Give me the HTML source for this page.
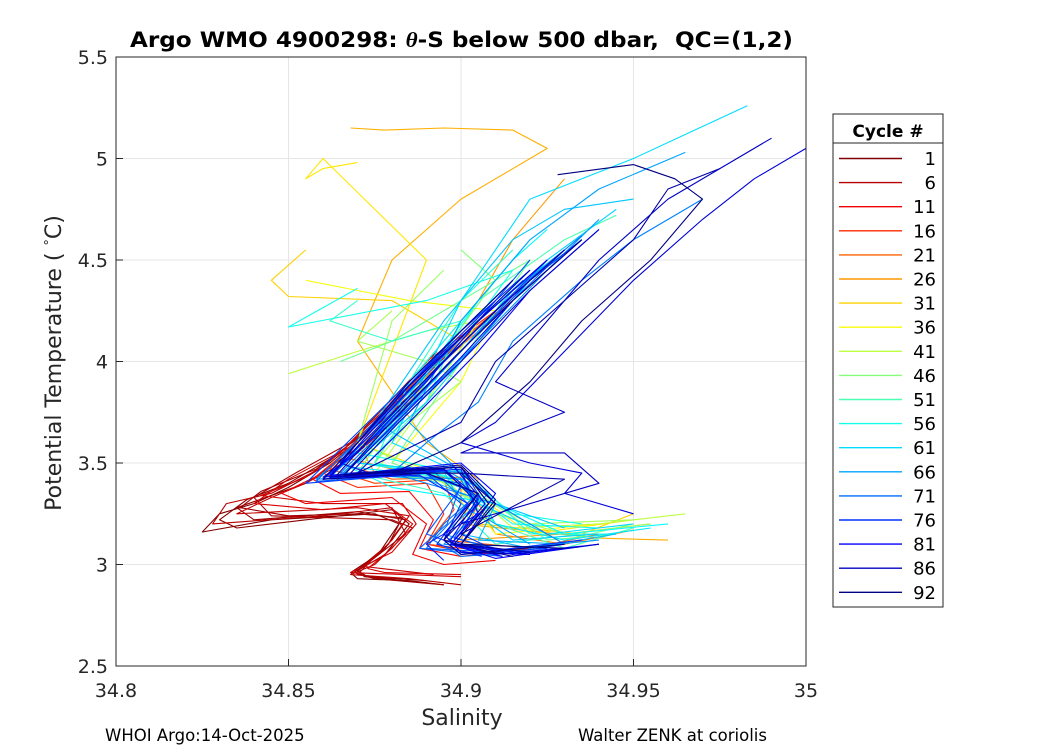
<!DOCTYPE html>
<html><head><meta charset="utf-8"><style>
body{margin:0;background:#fff;}
svg{display:block;font-family:"DejaVu Sans","Liberation Sans",sans-serif;}
</style></head><body>
<svg id="chart" width="1050" height="750" viewBox="0 0 1050 750">
<rect width="1050" height="750" fill="#fff"/>
<g id="grid"></g>
<g id="series"></g>
<rect x="116" y="57" width="690" height="609" fill="none" stroke="#262626" stroke-width="1"/>
<g id="ticks"></g>
<text x="130" y="47" font-size="21" font-weight="bold" fill="#000" xml:space="preserve" textLength="663" lengthAdjust="spacingAndGlyphs">Argo WMO 4900298: <tspan font-style="italic" font-family="Liberation Serif,serif">θ</tspan>-S below 500 dbar,  QC=(1,2)</text>
<text x="462" y="725" text-anchor="middle" font-size="22" fill="#262626">Salinity</text>
<text transform="translate(61,363) rotate(-90)" text-anchor="middle" font-size="22" fill="#262626">Potential Temperature ( <tspan baseline-shift="super" font-size="13">°</tspan>C)</text>
<text x="105" y="741" font-size="16.5" fill="#000">WHOI Argo:14-Oct-2025</text>
<text x="578" y="741" font-size="16.5" fill="#000">Walter ZENK at coriolis</text>
<g id="legend">
<rect x="833" y="114" width="110" height="493" fill="#fff" stroke="#262626"/>
<line x1="833" y1="143" x2="943" y2="143" stroke="#262626"/>
<text x="888" y="137" text-anchor="middle" font-size="17" font-weight="bold">Cycle #</text>
</g>
</svg>
<script>
const cycles=[1,3,6,9,11,16,21,26,28,31,33,36,41,46,48,51,53,56,58,61,63,66,69,71,73,75,76,78,80,81,84,86,88,92,
2,4,5,7,8,13,18,23,60,62,64,65,67,68,70,72,74,77,79,82,83,85,87,89,90,91,43,44,54,57];
const sal=[
[34.895,34.88,34.862,34.85,34.84,34.83,34.825,34.845,34.875,34.882,34.876,34.868,34.87,34.885,34.895],
[34.9,34.885,34.868,34.855,34.835,34.84,34.87,34.884,34.878,34.87,34.873,34.89],
[34.89,34.875,34.86,34.845,34.832,34.828,34.86,34.88,34.884,34.875,34.868,34.885,34.9],
[34.905,34.89,34.87,34.85,34.84,34.86,34.878,34.886,34.88,34.873,34.878,34.9],
[34.885,34.872,34.86,34.848,34.855,34.88,34.89,34.886,34.895,34.91],
[34.91,34.89,34.875,34.86,34.87,34.89,34.895,34.89,34.905,34.93],
[34.92,34.9,34.88,34.865,34.88,34.9,34.9,34.895,34.92,34.94],
[34.93,34.915,34.905,34.89,34.87,34.875,34.9,34.905,34.9,34.93,34.955],
[34.868,34.878,34.895,34.915,34.925,34.9,34.88,34.87,34.89,34.905,34.9,34.94,34.96],
[34.855,34.845,34.85,34.88,34.9,34.88,34.87,34.895,34.905,34.935,34.95],
[34.87,34.86,34.855,34.86,34.89,34.87,34.9,34.92,34.95],
[34.855,34.87,34.885,34.91,34.9,34.88,34.9,34.91,34.94],
[34.85,34.87,34.89,34.905,34.89,34.875,34.9,34.915,34.94,34.965],
[34.9,34.91,34.895,34.88,34.87,34.895,34.91,34.93,34.95],
[34.865,34.88,34.9,34.92,34.9,34.88,34.905,34.925,34.945],
[34.945,34.93,34.905,34.89,34.875,34.9,34.91,34.93,34.95],
[34.87,34.862,34.88,34.9,34.89,34.87,34.895,34.91,34.935],
[34.87,34.85,34.89,34.915,34.9,34.87,34.9,34.915,34.935],
[34.925,34.915,34.9,34.88,34.865,34.88,34.91,34.93,34.96],
[34.983,34.95,34.92,34.9,34.88,34.9,34.905,34.925,34.95],
[34.95,34.93,34.915,34.895,34.875,34.9,34.91,34.93],
[34.965,34.94,34.92,34.9,34.885,34.9,34.905,34.92],
[34.97,34.95,34.935,34.915,34.905,34.89,34.88,34.91,34.93],
[34.93,34.915,34.9,34.88,34.865,34.89,34.905,34.895,34.89,34.92],
[34.92,34.905,34.89,34.87,34.86,34.885,34.9,34.89,34.905,34.93],
[34.915,34.9,34.885,34.87,34.855,34.89,34.9,34.895,34.9,34.925],
[34.935,34.92,34.9,34.88,34.86,34.895,34.905,34.9,34.91,34.935],
[34.91,34.895,34.88,34.865,34.875,34.9,34.905,34.89,34.895],
[34.925,34.905,34.89,34.87,34.86,34.9,34.91,34.9,34.92],
[34.94,34.92,34.905,34.885,34.87,34.9,34.908,34.897,34.91,34.94],
[35.0,34.985,34.97,34.95,34.93,34.91,34.9,34.92,34.935,34.93,34.95],
[34.99,34.975,34.96,34.94,34.925,34.91,34.93,34.9,34.93,34.94,34.9],
[34.975,34.96,34.95,34.93,34.91,34.9,34.87,34.9,34.93,34.9],
[34.928,34.95,34.962,34.97,34.955,34.935,34.92,34.9,34.88,34.9,34.91,34.9,34.93],
[34.893,34.878,34.865,34.85,34.838,34.83,34.835,34.86,34.88,34.885,34.878,34.87,34.872,34.89],
[34.888,34.87,34.858,34.842,34.836,34.85,34.87,34.883,34.879,34.869,34.875,34.895],
[34.9,34.884,34.87,34.852,34.84,34.845,34.88,34.886,34.874,34.87,34.88],
[34.88,34.868,34.855,34.845,34.835,34.87,34.885,34.88,34.872,34.892],
[34.895,34.88,34.865,34.855,34.842,34.86,34.883,34.887,34.88,34.868,34.9],
[34.9,34.885,34.87,34.857,34.865,34.885,34.892,34.888,34.9,34.92],
[34.915,34.895,34.878,34.862,34.875,34.895,34.898,34.89,34.91,34.935],
[34.925,34.905,34.885,34.868,34.885,34.9,34.905,34.91,34.93,34.95],
[34.935,34.92,34.905,34.885,34.868,34.89,34.905,34.91,34.93,34.955],
[34.945,34.925,34.91,34.89,34.87,34.895,34.9,34.915,34.94],
[34.93,34.915,34.9,34.882,34.866,34.89,34.905,34.9,34.92,34.945],
[34.92,34.905,34.89,34.875,34.862,34.9,34.91,34.905,34.93],
[34.94,34.925,34.905,34.885,34.865,34.895,34.908,34.895,34.91,34.94],
[34.918,34.902,34.888,34.87,34.858,34.88,34.9,34.905,34.895,34.915],
[34.935,34.918,34.9,34.878,34.862,34.892,34.902,34.892,34.9,34.925],
[34.912,34.897,34.883,34.868,34.858,34.885,34.9,34.896,34.888,34.912],
[34.925,34.91,34.894,34.876,34.862,34.9,34.906,34.898,34.915,34.93],
[34.92,34.9,34.886,34.87,34.86,34.888,34.902,34.893,34.906],
[34.93,34.912,34.895,34.875,34.862,34.895,34.905,34.897,34.91,34.935],
[34.935,34.915,34.9,34.88,34.866,34.898,34.907,34.897,34.912],
[34.925,34.905,34.89,34.872,34.862,34.89,34.905,34.895,34.9,34.92],
[34.94,34.92,34.9,34.882,34.868,34.9,34.91,34.9,34.915,34.94],
[34.92,34.9,34.885,34.87,34.862,34.895,34.905,34.895,34.91],
[34.93,34.91,34.893,34.875,34.864,34.9,34.91,34.9,34.92],
[34.915,34.9,34.885,34.87,34.86,34.89,34.905,34.895,34.9,34.93],
[34.935,34.915,34.898,34.878,34.866,34.9,34.908,34.898,34.915],
[34.88,34.87,34.89,34.9,34.885,34.875,34.9,34.92,34.95],
[34.895,34.88,34.87,34.89,34.91,34.93,34.955],
[34.915,34.9,34.885,34.875,34.905,34.92,34.945],
[34.92,34.905,34.89,34.87,34.895,34.915,34.94]
];
const temp=[
[4.0,3.75,3.5,3.38,3.3,3.25,3.16,3.22,3.25,3.2,3.05,2.96,2.93,2.92,2.9],
[4.1,3.8,3.55,3.4,3.28,3.22,3.26,3.22,3.08,2.97,2.94,2.92],
[3.95,3.7,3.48,3.35,3.3,3.2,3.24,3.28,3.15,3.0,2.95,2.93,2.9],
[4.2,3.9,3.6,3.42,3.3,3.27,3.3,3.2,3.08,2.98,2.96,2.95],
[3.9,3.65,3.45,3.35,3.3,3.33,3.2,3.05,3.0,3.02],
[4.25,4.0,3.7,3.45,3.38,3.4,3.25,3.1,3.05,3.1],
[4.4,4.1,3.8,3.5,3.42,3.43,3.3,3.12,3.08,3.15],
[4.9,4.6,4.3,4.0,3.6,3.45,3.45,3.3,3.12,3.15,3.2],
[5.15,5.14,5.15,5.14,5.05,4.8,4.5,4.1,3.6,3.42,3.2,3.13,3.12],
[4.55,4.4,4.32,4.3,4.1,3.7,3.45,3.42,3.2,3.15,3.25],
[4.98,4.95,4.9,5.0,4.5,3.6,3.4,3.15,3.22],
[4.4,4.35,4.3,4.25,3.9,3.5,3.38,3.15,3.2],
[3.94,4.05,4.15,4.2,3.8,3.45,3.4,3.18,3.2,3.25],
[4.55,4.4,4.05,3.7,3.45,3.42,3.2,3.12,3.2],
[4.0,4.1,4.3,4.5,4.0,3.5,3.35,3.12,3.15],
[4.72,4.6,4.3,3.9,3.5,3.42,3.2,3.08,3.18],
[4.3,4.2,4.1,4.2,3.8,3.45,3.35,3.1,3.15],
[4.36,4.17,4.3,4.45,4.1,3.55,3.45,3.25,3.2],
[4.65,4.5,4.2,3.8,3.5,3.38,3.3,3.15,3.2],
[5.26,5.0,4.8,4.3,3.6,3.45,3.3,3.15,3.2],
[4.8,4.75,4.6,4.2,3.7,3.46,3.3,3.18],
[5.03,4.85,4.6,4.2,3.7,3.45,3.25,3.1],
[4.8,4.6,4.4,4.1,3.8,3.6,3.45,3.3,3.1],
[4.55,4.3,4.0,3.7,3.45,3.45,3.35,3.2,3.08,3.05],
[4.5,4.2,3.95,3.6,3.42,3.48,3.38,3.15,3.06,3.1],
[4.4,4.15,3.9,3.65,3.4,3.45,3.3,3.12,3.05,3.08],
[4.6,4.4,4.05,3.7,3.42,3.46,3.32,3.15,3.07,3.12],
[4.3,4.05,3.8,3.5,3.44,3.47,3.25,3.1,3.02],
[4.5,4.2,3.9,3.55,3.43,3.5,3.35,3.1,3.05],
[4.65,4.35,4.05,3.7,3.45,3.48,3.3,3.1,3.03,3.1],
[5.05,4.9,4.7,4.4,4.05,3.7,3.6,3.5,3.45,3.35,3.25],
[5.1,4.95,4.8,4.5,4.2,3.9,3.75,3.55,3.55,3.4,3.2],
[4.95,4.85,4.6,4.3,4.0,3.7,3.45,3.45,3.42,3.15],
[4.92,4.97,4.9,4.8,4.5,4.2,3.9,3.6,3.45,3.45,3.3,3.1,3.08],
[4.05,3.78,3.55,3.4,3.32,3.22,3.18,3.23,3.27,3.2,3.05,2.97,2.94,2.91],
[3.9,3.62,3.47,3.36,3.28,3.24,3.25,3.23,3.1,2.96,2.93,2.9],
[4.15,3.85,3.62,3.45,3.33,3.24,3.22,3.18,3.02,2.95,2.93],
[3.7,3.52,3.4,3.33,3.25,3.28,3.24,3.12,2.99,2.95],
[4.05,3.8,3.55,3.43,3.34,3.3,3.3,3.2,3.06,2.96,2.94],
[4.1,3.85,3.6,3.42,3.35,3.36,3.22,3.08,3.04,3.08],
[4.3,4.05,3.75,3.47,3.4,3.42,3.27,3.1,3.06,3.12],
[4.45,4.15,3.85,3.52,3.45,3.42,3.3,3.15,3.1,3.17],
[4.6,4.4,4.1,3.75,3.48,3.44,3.35,3.2,3.12,3.18],
[4.75,4.5,4.2,3.8,3.5,3.46,3.3,3.12,3.15],
[4.55,4.35,4.05,3.72,3.45,3.42,3.32,3.15,3.08,3.15],
[4.45,4.2,3.95,3.66,3.43,3.46,3.3,3.12,3.1],
[4.7,4.45,4.1,3.75,3.44,3.47,3.35,3.15,3.07,3.12],
[4.4,4.15,3.9,3.6,3.42,3.44,3.42,3.25,3.1,3.06],
[4.62,4.38,4.05,3.68,3.43,3.46,3.3,3.12,3.04,3.07],
[4.35,4.1,3.85,3.58,3.41,3.44,3.4,3.2,3.08,3.04],
[4.5,4.25,3.98,3.65,3.44,3.48,3.32,3.13,3.06,3.1],
[4.45,4.15,3.9,3.6,3.42,3.44,3.3,3.1,3.04],
[4.55,4.28,4.0,3.66,3.44,3.47,3.33,3.12,3.05,3.09],
[4.6,4.3,4.02,3.68,3.44,3.48,3.3,3.1,3.04],
[4.5,4.2,3.95,3.62,3.43,3.45,3.35,3.15,3.06,3.05],
[4.65,4.35,4.0,3.7,3.45,3.48,3.3,3.1,3.05,3.1],
[4.45,4.12,3.88,3.6,3.43,3.47,3.3,3.12,3.05],
[4.55,4.25,3.97,3.65,3.44,3.49,3.32,3.1,3.06],
[4.4,4.15,3.9,3.6,3.42,3.45,3.35,3.12,3.05,3.1],
[4.6,4.3,4.02,3.67,3.44,3.48,3.3,3.1,3.04],
[4.25,4.1,4.0,3.9,3.7,3.5,3.38,3.2,3.22],
[4.45,4.2,3.6,3.45,3.25,3.15,3.2],
[4.55,4.3,3.9,3.5,3.4,3.15,3.15],
[4.6,4.3,3.95,3.5,3.44,3.2,3.18]
];
const legendCycles=[1,6,11,16,21,26,31,36,41,46,51,56,61,66,71,76,81,86,92];
const xTicks=[34.8,34.85,34.9,34.95,35];
const xTickLabels=["34.8","34.85","34.9","34.95","35"];
const yTicks=[2.5,3,3.5,4,4.5,5,5.5];
const yTickLabels=["2.5","3","3.5","4","4.5","5","5.5"];

const X0=116,X1=806,Y0=666,Y1=57;
const xs=v=>X0+(v-34.8)/(35-34.8)*(X1-X0);
const ys=v=>Y0-(v-2.5)/(5.5-2.5)*(Y0-Y1);
const NS="http://www.w3.org/2000/svg";
function jetR(c){
  const t=1-(c-1)/91;
  const f=x=>Math.max(0,Math.min(1,x));
  const r=f(1.5-Math.abs(4*t-3)),g=f(1.5-Math.abs(4*t-2)),b=f(1.5-Math.abs(4*t-1));
  return `rgb(${Math.round(r*255)},${Math.round(g*255)},${Math.round(b*255)})`;
}
const grid=document.getElementById('grid'),ticks=document.getElementById('ticks');
xTicks.forEach((v,i)=>{
  const x=xs(v);
  const gl=document.createElementNS(NS,'line');
  gl.setAttribute('x1',x);gl.setAttribute('x2',x);gl.setAttribute('y1',Y1);gl.setAttribute('y2',Y0);
  gl.setAttribute('stroke','#e6e6e6');
  
  
  grid.appendChild(gl);
  const t=document.createElementNS(NS,'text');
  t.setAttribute('x',x);t.setAttribute('y',697);t.setAttribute('text-anchor','middle');
  t.setAttribute('font-size','19');t.setAttribute('fill','#262626');
  t.textContent=xTickLabels[i];
  
  
  ticks.appendChild(t);
  const tk=document.createElementNS(NS,'line');
  tk.setAttribute('x1',x);tk.setAttribute('x2',x);tk.setAttribute('y1',Y0);tk.setAttribute('y2',Y0-7);tk.setAttribute('stroke','#262626');
  
  
  ticks.appendChild(tk);
});
yTicks.forEach((v,i)=>{
  const y=ys(v);
  const gl=document.createElementNS(NS,'line');
  gl.setAttribute('x1',X0);gl.setAttribute('x2',X1);gl.setAttribute('y1',y);gl.setAttribute('y2',y);
  gl.setAttribute('stroke','#e6e6e6');
  
  
  grid.appendChild(gl);
  const t=document.createElementNS(NS,'text');
  t.setAttribute('x',108);t.setAttribute('y',y+7);t.setAttribute('text-anchor','end');
  t.setAttribute('font-size','19');t.setAttribute('fill','#262626');
  t.textContent=yTickLabels[i];
  
  
  ticks.appendChild(t);
  const tk=document.createElementNS(NS,'line');
  tk.setAttribute('x1',X0);tk.setAttribute('x2',X0+7);tk.setAttribute('y1',y);tk.setAttribute('y2',y);tk.setAttribute('stroke','#262626');
  
  
  ticks.appendChild(tk);
});
const series=document.getElementById('series');
const order=cycles.map((c,i)=>i).sort((a,b)=>cycles[a]-cycles[b]);
order.forEach(i=>{
  const c=cycles[i];
  const p=document.createElementNS(NS,'polyline');
  p.setAttribute('points',sal[i].map((s,j)=>xs(s).toFixed(1)+','+ys(temp[i][j]).toFixed(1)).join(' '));
  p.setAttribute('fill','none');p.setAttribute('stroke',jetR(c));p.setAttribute('stroke-width','1.1');
  p.setAttribute('stroke-linejoin','round');
  
  
  series.appendChild(p);
});
const legend=document.getElementById('legend');
legendCycles.forEach((c,i)=>{
  const y=158.5+i*24.1;
  const l=document.createElementNS(NS,'line');
  l.setAttribute('x1',839);l.setAttribute('x2',902);l.setAttribute('y1',y);l.setAttribute('y2',y);
  l.setAttribute('stroke',jetR(c));l.setAttribute('stroke-width','1.4');
  
  
  legend.appendChild(l);
  const t=document.createElementNS(NS,'text');
  t.setAttribute('x',936);t.setAttribute('y',y+6.5);t.setAttribute('text-anchor','end');
  t.setAttribute('font-size','18');t.setAttribute('fill','#000');
  t.textContent=c;
  
  
  legend.appendChild(t);
});
</script>
</body></html>
